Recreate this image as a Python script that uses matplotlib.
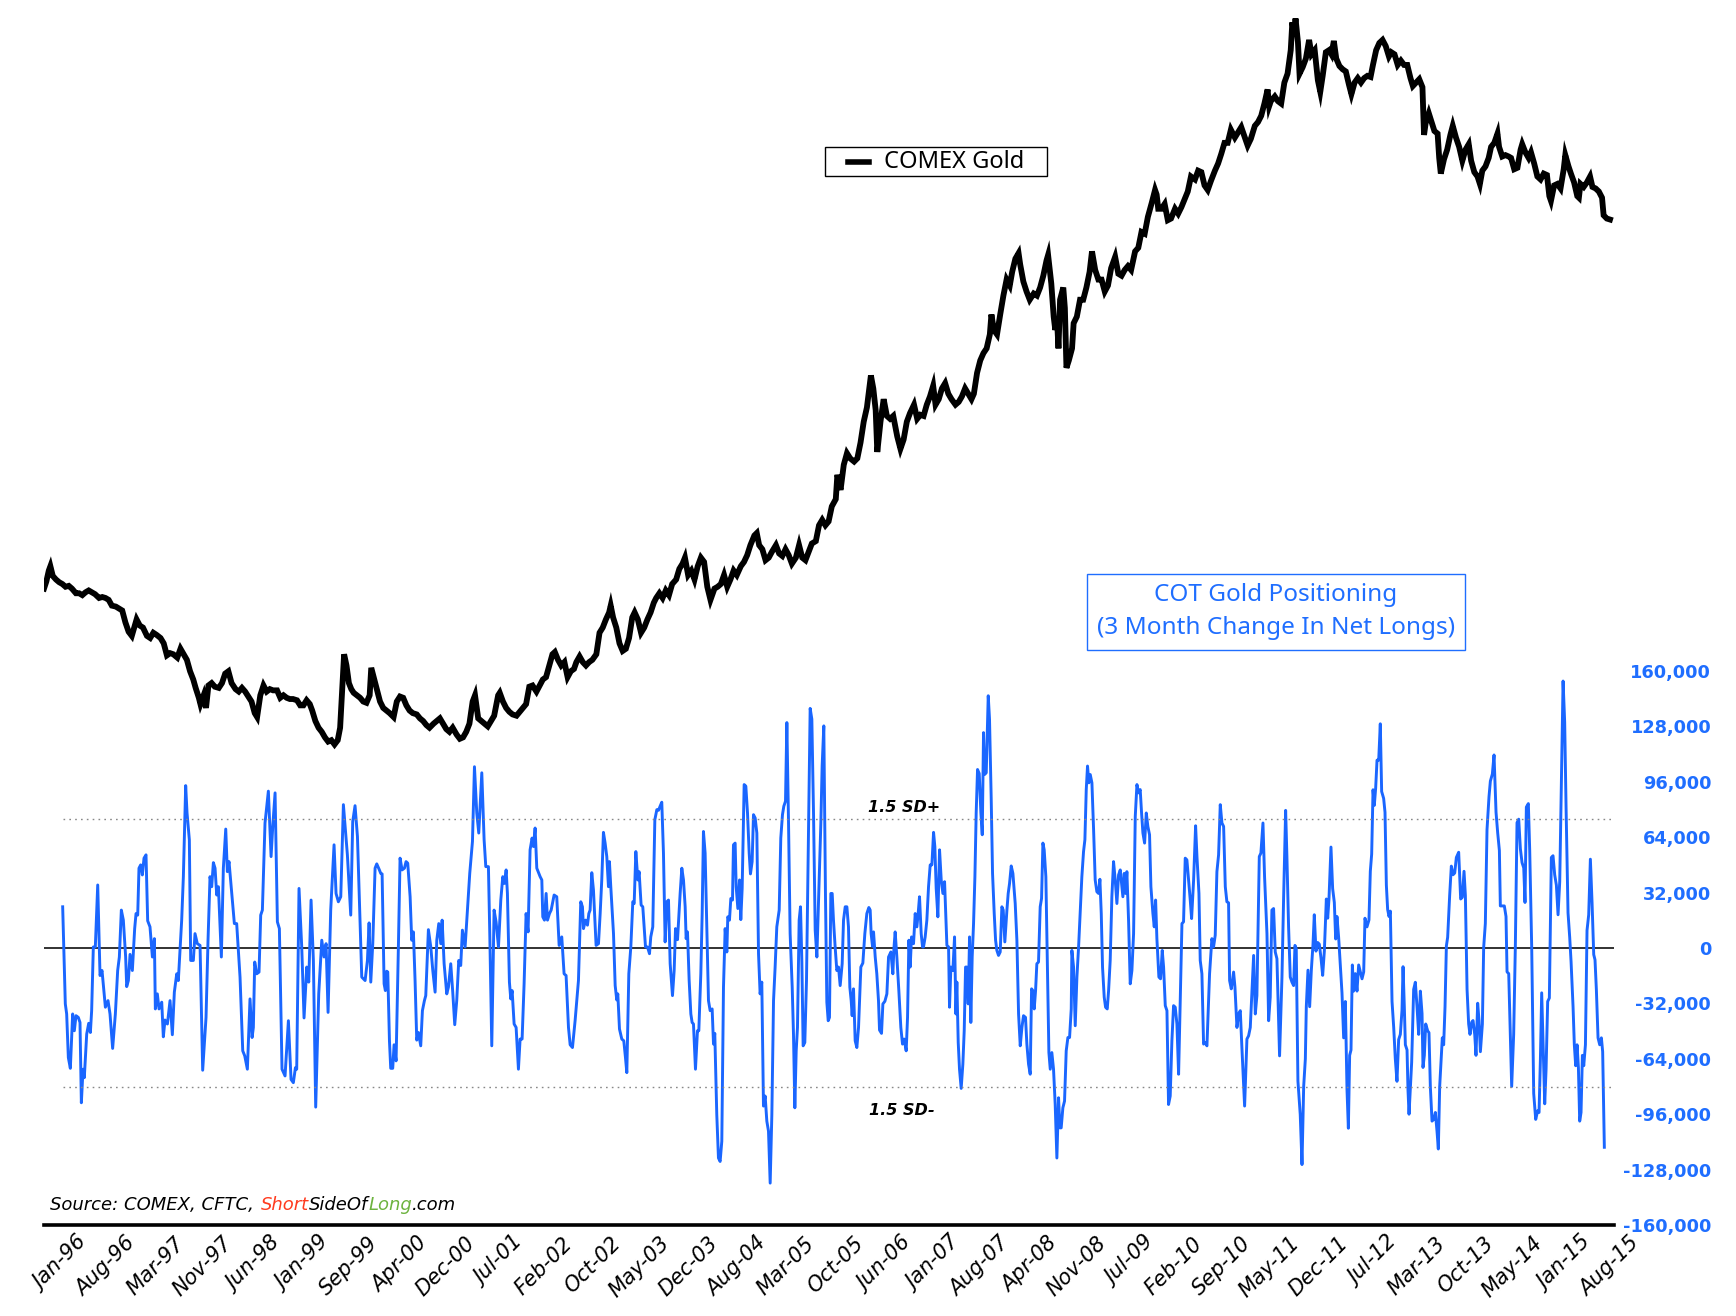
import numpy as np
import matplotlib.pyplot as plt
from matplotlib.offsetbox import TextArea, HPacker, AnnotationBbox
from matplotlib.lines import Line2D
from matplotlib.patches import Rectangle

plt.rcParams['font.family'] = ['Noto Sans', 'DejaVu Sans']

# COMEX gold, weekly-ish closes (USD/oz), decimal years
gold_year = [
    1996.00, 1996.03, 1996.06, 1996.08, 1996.11, 1996.15, 1996.19, 1996.23, 1996.27, 1996.31,
    1996.35, 1996.40, 1996.44, 1996.48, 1996.52, 1996.56, 1996.60, 1996.64, 1996.69, 1996.73,
    1996.77, 1996.81, 1996.85, 1996.90, 1996.94, 1996.98, 1997.02, 1997.06, 1997.10, 1997.13,
    1997.16, 1997.20, 1997.24, 1997.29, 1997.33, 1997.37, 1997.41, 1997.46, 1997.50, 1997.54,
    1997.58, 1997.62, 1997.67, 1997.71, 1997.75, 1997.79, 1997.83, 1997.87, 1997.90, 1997.94,
    1997.96, 1998.00, 1998.03, 1998.06, 1998.10, 1998.14, 1998.19, 1998.23, 1998.27, 1998.31,
    1998.35, 1998.40, 1998.44, 1998.48, 1998.52, 1998.56, 1998.60, 1998.64, 1998.67, 1998.71,
    1998.75, 1998.79, 1998.83, 1998.87, 1998.92, 1998.96, 1999.00, 1999.04, 1999.08, 1999.12,
    1999.17, 1999.21, 1999.25, 1999.29, 1999.33, 1999.36, 1999.40, 1999.44, 1999.48, 1999.52,
    1999.56, 1999.60, 1999.64, 1999.68, 1999.71, 1999.74, 1999.76, 1999.79, 1999.82, 1999.85,
    1999.88, 1999.92, 1999.96, 2000.00, 2000.04, 2000.08, 2000.10, 2000.13, 2000.17, 2000.21,
    2000.25, 2000.29, 2000.33, 2000.38, 2000.42, 2000.46, 2000.50, 2000.54, 2000.58, 2000.62,
    2000.67, 2000.71, 2000.75, 2000.79, 2000.83, 2000.88, 2000.92, 2000.96, 2001.00, 2001.04,
    2001.08, 2001.12, 2001.17, 2001.21, 2001.25, 2001.29, 2001.33, 2001.37, 2001.40, 2001.44,
    2001.48, 2001.52, 2001.56, 2001.60, 2001.64, 2001.69, 2001.71, 2001.75, 2001.79, 2001.83,
    2001.87, 2001.92, 2001.96, 2002.00, 2002.04, 2002.08, 2002.12, 2002.17, 2002.21, 2002.25,
    2002.29, 2002.33, 2002.37, 2002.40, 2002.44, 2002.48, 2002.52, 2002.56, 2002.60, 2002.64,
    2002.67, 2002.71, 2002.75, 2002.79, 2002.83, 2002.87, 2002.92, 2002.96, 2003.00, 2003.04,
    2003.08, 2003.10, 2003.13, 2003.17, 2003.21, 2003.25, 2003.29, 2003.33, 2003.37, 2003.40,
    2003.44, 2003.48, 2003.52, 2003.56, 2003.60, 2003.64, 2003.67, 2003.71, 2003.75, 2003.79,
    2003.83, 2003.87, 2003.92, 2003.96, 2004.00, 2004.03, 2004.07, 2004.11, 2004.15, 2004.19,
    2004.23, 2004.27, 2004.31, 2004.35, 2004.40, 2004.44, 2004.48, 2004.52, 2004.56, 2004.60,
    2004.64, 2004.68, 2004.73, 2004.77, 2004.81, 2004.85, 2004.90, 2004.93, 2004.96, 2005.00,
    2005.04, 2005.08, 2005.12, 2005.17, 2005.21, 2005.25, 2005.29, 2005.33, 2005.37, 2005.42,
    2005.46, 2005.50, 2005.54, 2005.58, 2005.62, 2005.67, 2005.71, 2005.75, 2005.79, 2005.83,
    2005.87, 2005.92, 2005.94, 2005.98, 2006.02, 2006.06, 2006.10, 2006.15, 2006.19, 2006.23,
    2006.27, 2006.31, 2006.36, 2006.39, 2006.42, 2006.44, 2006.48, 2006.52, 2006.56, 2006.60,
    2006.64, 2006.69, 2006.73, 2006.77, 2006.81, 2006.85, 2006.90, 2006.94, 2006.98, 2007.02,
    2007.06, 2007.10, 2007.14, 2007.17, 2007.21, 2007.25, 2007.29, 2007.33, 2007.37, 2007.42,
    2007.46, 2007.50, 2007.54, 2007.58, 2007.62, 2007.65, 2007.69, 2007.73, 2007.77, 2007.81,
    2007.85, 2007.87, 2007.90, 2007.94, 2007.98, 2008.02, 2008.06, 2008.10, 2008.13, 2008.17,
    2008.21, 2008.23, 2008.27, 2008.31, 2008.35, 2008.40, 2008.44, 2008.48, 2008.52, 2008.56,
    2008.58, 2008.62, 2008.65, 2008.67, 2008.69, 2008.71, 2008.73, 2008.77, 2008.79, 2008.81,
    2008.84, 2008.88, 2008.90, 2008.94, 2008.98, 2009.02, 2009.06, 2009.10, 2009.13, 2009.17,
    2009.21, 2009.25, 2009.29, 2009.33, 2009.37, 2009.42, 2009.46, 2009.50, 2009.54, 2009.58,
    2009.62, 2009.67, 2009.71, 2009.75, 2009.79, 2009.83, 2009.88, 2009.92, 2009.94, 2009.96,
    2010.00, 2010.04, 2010.08, 2010.12, 2010.17, 2010.21, 2010.25, 2010.29, 2010.33, 2010.37,
    2010.42, 2010.46, 2010.50, 2010.54, 2010.58, 2010.62, 2010.67, 2010.71, 2010.75, 2010.79,
    2010.83, 2010.87, 2010.92, 2010.96, 2011.00, 2011.04, 2011.08, 2011.12, 2011.17, 2011.21,
    2011.25, 2011.29, 2011.33, 2011.35, 2011.37, 2011.42, 2011.46, 2011.50, 2011.54, 2011.58,
    2011.62, 2011.64, 2011.66, 2011.68, 2011.71, 2011.73, 2011.77, 2011.81, 2011.85, 2011.88,
    2011.92, 2011.96, 2011.99, 2012.02, 2012.06, 2012.10, 2012.13, 2012.16, 2012.19, 2012.23,
    2012.27, 2012.31, 2012.35, 2012.38, 2012.42, 2012.46, 2012.50, 2012.54, 2012.58, 2012.62,
    2012.65, 2012.69, 2012.73, 2012.77, 2012.81, 2012.85, 2012.88, 2012.92, 2012.96, 2013.00,
    2013.04, 2013.08, 2013.12, 2013.15, 2013.19, 2013.23, 2013.27, 2013.29, 2013.31, 2013.35,
    2013.38, 2013.42, 2013.46, 2013.48, 2013.50, 2013.54, 2013.58, 2013.62, 2013.65, 2013.69,
    2013.73, 2013.77, 2013.81, 2013.85, 2013.88, 2013.92, 2013.96, 2013.99, 2014.02, 2014.06,
    2014.10, 2014.13, 2014.17, 2014.21, 2014.23, 2014.27, 2014.31, 2014.35, 2014.38, 2014.42,
    2014.46, 2014.50, 2014.52, 2014.56, 2014.60, 2014.63, 2014.67, 2014.71, 2014.75, 2014.79,
    2014.83, 2014.86, 2014.88, 2014.92, 2014.96, 2015.00, 2015.04, 2015.06, 2015.10, 2015.13,
    2015.17, 2015.21, 2015.23, 2015.25, 2015.29, 2015.33, 2015.37, 2015.40, 2015.44, 2015.48,
    2015.52, 2015.54, 2015.58, 2015.62,
]
gold_price = [
    390, 398, 410, 415, 404, 400, 397, 395, 392, 393,
    390, 385, 385, 383, 386, 388, 386, 384, 380, 381,
    380, 378, 372, 371, 369, 367, 355, 346, 342, 350,
    358, 352, 350, 342, 340, 345, 343, 340, 335, 324,
    326, 325, 322, 330, 325, 320, 310, 303, 296, 288,
    283, 290, 280, 298, 300, 297, 296, 300, 308, 310,
    300, 295, 293, 296, 293, 289, 285, 276, 273, 290,
    298, 293, 295, 294, 294, 288, 290, 288, 287, 287,
    286, 282, 282, 286, 283, 278, 270, 265, 262, 258,
    255, 256, 253, 256, 265, 300, 325, 315, 300, 295,
    292, 290, 288, 285, 284, 290, 313, 305, 295, 285,
    280, 278, 276, 273, 285, 289, 288, 282, 278, 276,
    275, 272, 270, 267, 265, 268, 270, 272, 268, 264,
    262, 265, 260, 257, 258, 262, 268, 285, 290, 272,
    270, 268, 266, 270, 274, 290, 292, 285, 280, 277,
    275, 274, 277, 280, 283, 297, 298, 293, 298, 303,
    305, 315, 325, 327, 320, 315, 318, 305, 310, 312,
    318, 323, 318, 315, 318, 320, 325, 345, 350, 358,
    365, 372, 360, 350, 335, 328, 330, 340, 360, 365,
    358, 345, 350, 358, 365, 375, 380, 385, 380, 388,
    383, 395, 400, 412, 418, 425, 405, 410, 400, 415,
    425, 420, 392, 378, 390, 392, 395, 405, 392, 400,
    410, 405, 415, 420, 428, 440, 452, 455, 440, 435,
    422, 425, 432, 440, 430, 427, 435, 428, 418, 425,
    440, 425, 422, 432, 442, 445, 465, 472, 465, 470,
    490, 500, 535, 513, 550, 568, 560, 555, 560, 585,
    620, 645, 705, 680, 640, 570, 620, 660, 630, 625,
    630, 595, 575, 590, 620, 635, 650, 625, 632, 630,
    650, 665, 685, 650, 660, 680, 690, 670, 660, 650,
    655, 665, 680, 670, 660, 670, 710, 735, 750, 760,
    790, 835, 800, 790, 835, 880, 920, 905, 940, 975,
    990, 960, 915, 890, 870, 885, 880, 900, 930, 970,
    985, 910, 830, 800, 830, 760, 870, 900, 850, 720,
    735, 760, 815, 830, 870, 870, 900, 940, 995, 945,
    920, 920, 890, 905, 950, 980, 935, 930, 945, 955,
    945, 995, 1005, 1050, 1045, 1095, 1140, 1180, 1165, 1120,
    1120, 1135, 1085, 1090, 1120, 1105, 1125, 1150, 1175, 1225,
    1215, 1245, 1240, 1195, 1180, 1210, 1245, 1270, 1305, 1345,
    1345, 1395, 1365, 1385, 1405, 1370, 1335, 1360, 1410, 1425,
    1450, 1500, 1560, 1490, 1510, 1530, 1510, 1500, 1590, 1630,
    1740, 1880, 1820, 1900, 1780, 1630, 1660, 1700, 1790, 1720,
    1740, 1600, 1550, 1620, 1730, 1740, 1720, 1785, 1700, 1665,
    1650, 1640, 1580, 1540, 1590, 1610, 1590, 1610, 1620, 1615,
    1670, 1740, 1775, 1790, 1760, 1710, 1730, 1720, 1670, 1690,
    1670, 1670, 1610, 1575, 1590, 1605, 1570, 1375, 1420, 1460,
    1430, 1390, 1380, 1290, 1235, 1285, 1320, 1375, 1410, 1365,
    1330, 1280, 1320, 1340, 1280, 1240, 1225, 1200, 1245, 1260,
    1290, 1330, 1345, 1380, 1330, 1295, 1300, 1295, 1290, 1250,
    1255, 1320, 1340, 1310, 1290, 1310, 1270, 1225, 1215, 1235,
    1230, 1160, 1145, 1195, 1200, 1185, 1250, 1300, 1260, 1235,
    1205, 1160, 1155, 1200, 1190, 1205, 1225, 1190, 1185, 1175,
    1155, 1100, 1090, 1087,
]

# COT gold, 3 month change in net longs (thousands of contracts)
cot_year = [
    1996.234, 1996.267, 1996.284, 1996.305, 1996.330, 1996.359, 1996.380, 1996.401, 1996.430, 1996.451,
    1996.468, 1996.489, 1996.505, 1996.535, 1996.560, 1996.581, 1996.597, 1996.618, 1996.643, 1996.673,
    1996.702, 1996.727, 1996.769, 1996.802, 1996.827, 1996.860, 1996.894, 1996.923, 1996.944, 1996.969,
    1996.994, 1997.023, 1997.036, 1997.057, 1997.078, 1997.107, 1997.136, 1997.153, 1997.174, 1997.190,
    1997.211, 1997.232, 1997.253, 1997.278, 1997.299, 1997.328, 1997.358, 1997.383, 1997.395, 1997.420,
    1997.441, 1997.475, 1997.495, 1997.516, 1997.546, 1997.579, 1997.608, 1997.633, 1997.663, 1997.683,
    1997.725, 1997.746, 1997.775, 1997.792, 1997.821, 1997.838, 1997.871, 1997.892, 1997.921, 1997.955,
    1997.988, 1998.030, 1998.055, 1998.080, 1998.101, 1998.122, 1998.143, 1998.164, 1998.185, 1998.222,
    1998.247, 1998.277, 1998.297, 1998.318, 1998.352, 1998.385, 1998.414, 1998.456, 1998.490, 1998.515,
    1998.548, 1998.581, 1998.607, 1998.623, 1998.640, 1998.665, 1998.694, 1998.715, 1998.736, 1998.769,
    1998.811, 1998.845, 1998.866, 1998.895, 1998.924, 1998.949, 1998.982, 1999.020, 1999.062, 1999.095,
    1999.124, 1999.150, 1999.166, 1999.195, 1999.229, 1999.258, 1999.292, 1999.317, 1999.346, 1999.375,
    1999.404, 1999.442, 1999.480, 1999.509, 1999.534, 1999.559, 1999.592, 1999.634, 1999.659, 1999.688,
    1999.718, 1999.751, 1999.776, 1999.801, 1999.843, 1999.868, 1999.897, 1999.927,
    1999.981, 2000.002, 2000.023, 2000.052, 2000.073, 2000.094, 2000.119, 2000.148, 2000.169, 2000.202,
    2000.219, 2000.236, 2000.261, 2000.277, 2000.294, 2000.307, 2000.328, 2000.344, 2000.369, 2000.386,
    2000.411, 2000.440, 2000.461, 2000.486, 2000.516, 2000.536, 2000.557, 2000.587, 2000.607, 2000.628,
    2000.649, 2000.670, 2000.691, 2000.720, 2000.741, 2000.766, 2000.783, 2000.816, 2000.846, 2000.871,
    2000.900, 2000.921, 2000.946, 2000.971, 2000.988, 2001.013, 2001.046, 2001.067, 2001.096, 2001.121,
    2001.146, 2001.171, 2001.196, 2001.221, 2001.242, 2001.276, 2001.305, 2001.334, 2001.368, 2001.393,
    2001.422, 2001.447, 2001.485, 2001.514, 2001.535, 2001.568, 2001.585, 2001.610, 2001.639, 2001.664,
    2001.694, 2001.723, 2001.748, 2001.769, 2001.790, 2001.806, 2001.831, 2001.848, 2001.865, 2001.890,
    2001.915, 2001.944, 2001.965, 2001.990, 2002.015, 2002.040, 2002.065, 2002.090, 2002.115, 2002.132,
    2002.153, 2002.174, 2002.199, 2002.216, 2002.237, 2002.249, 2002.270, 2002.291, 2002.308, 2002.333,
    2002.354, 2002.374, 2002.391, 2002.424, 2002.454, 2002.487, 2002.516, 2002.541, 2002.571, 2002.592,
    2002.621, 2002.654, 2002.696, 2002.725, 2002.746, 2002.759, 2002.784, 2002.809, 2002.826, 2002.842,
    2002.863, 2002.884, 2002.917, 2002.947, 2002.968, 2002.988, 2003.009, 2003.030, 2003.051, 2003.072,
    2003.084, 2003.101, 2003.135, 2003.156, 2003.176, 2003.189, 2003.210, 2003.239, 2003.264, 2003.285,
    2003.302, 2003.327, 2003.352, 2003.377, 2003.394, 2003.415, 2003.440, 2003.456, 2003.481, 2003.502,
    2003.536, 2003.561, 2003.586, 2003.602, 2003.627, 2003.653, 2003.678, 2003.699, 2003.719, 2003.740,
    2003.761, 2003.782, 2003.803, 2003.824, 2003.845, 2003.874, 2003.895, 2003.912, 2003.937,
    2003.970, 2003.991, 2004.012, 2004.033, 2004.045, 2004.062, 2004.083, 2004.104, 2004.120, 2004.137,
    2004.162, 2004.187, 2004.204, 2004.229, 2004.246, 2004.262, 2004.283, 2004.304, 2004.325, 2004.346,
    2004.371, 2004.388, 2004.404, 2004.429, 2004.450, 2004.471, 2004.492, 2004.513, 2004.534, 2004.555,
    2004.567, 2004.588, 2004.605, 2004.626, 2004.638, 2004.659, 2004.672, 2004.693, 2004.714, 2004.730,
    2004.747, 2004.772, 2004.793, 2004.814, 2004.835, 2004.851, 2004.872, 2004.889, 2004.910, 2004.931,
    2004.952, 2004.972, 2004.993, 2005.014, 2005.035, 2005.056, 2005.077, 2005.098, 2005.119, 2005.140,
    2005.160, 2005.181, 2005.211, 2005.231, 2005.252, 2005.269, 2005.290, 2005.307, 2005.328, 2005.348,
    2005.374, 2005.390, 2005.407, 2005.424, 2005.440, 2005.461, 2005.478, 2005.495, 2005.511, 2005.532,
    2005.553, 2005.574, 2005.599, 2005.620, 2005.641, 2005.662, 2005.683, 2005.708, 2005.733, 2005.749,
    2005.770, 2005.791, 2005.808, 2005.825, 2005.841, 2005.858, 2005.875, 2005.891, 2005.912, 2005.933,
    2005.954, 2005.975, 2006.000, 2006.017, 2006.038, 2006.059, 2006.079, 2006.096, 2006.113, 2006.125,
    2006.142, 2006.163, 2006.184, 2006.205, 2006.234, 2006.259, 2006.284, 2006.309, 2006.334, 2006.351,
    2006.363, 2006.380, 2006.393, 2006.414, 2006.434, 2006.455, 2006.468, 2006.493, 2006.510, 2006.535,
    2006.560, 2006.581, 2006.610, 2006.635, 2006.648, 2006.664, 2006.685, 2006.710, 2006.735, 2006.756,
    2006.777, 2006.802, 2006.819, 2006.836, 2006.852, 2006.869, 2006.894, 2006.915, 2006.936, 2006.952,
    2006.969, 2006.990, 2007.007, 2007.019, 2007.040, 2007.061, 2007.082, 2007.103, 2007.124, 2007.145,
    2007.161, 2007.178, 2007.199, 2007.220, 2007.241, 2007.262, 2007.283, 2007.312, 2007.333, 2007.345,
    2007.362, 2007.387, 2007.408, 2007.425, 2007.437, 2007.454, 2007.470, 2007.491, 2007.512, 2007.529,
    2007.546, 2007.562, 2007.579, 2007.596, 2007.612, 2007.629, 2007.646, 2007.663, 2007.679, 2007.696,
    2007.717, 2007.738, 2007.755, 2007.771, 2007.784, 2007.805, 2007.830, 2007.846, 2007.867, 2007.884,
    2007.905, 2007.922, 2007.938, 2007.959,
    2007.980, 2008.001, 2008.018, 2008.038, 2008.064, 2008.080, 2008.097, 2008.118, 2008.139, 2008.168,
    2008.189, 2008.210, 2008.231, 2008.252, 2008.272, 2008.297, 2008.314, 2008.335, 2008.356, 2008.373,
    2008.389, 2008.406, 2008.423, 2008.439, 2008.460, 2008.481, 2008.498, 2008.515, 2008.531, 2008.552,
    2008.573, 2008.590, 2008.607, 2008.627, 2008.648, 2008.669, 2008.690, 2008.711, 2008.728, 2008.744,
    2008.765, 2008.786, 2008.807, 2008.828, 2008.849, 2008.870, 2008.878, 2008.899, 2008.920, 2008.941,
    2008.962, 2008.983, 2009.003, 2009.024, 2009.041, 2009.058, 2009.074, 2009.091, 2009.108, 2009.129,
    2009.150, 2009.170, 2009.191, 2009.212, 2009.229, 2009.246, 2009.262, 2009.283, 2009.300, 2009.321,
    2009.338, 2009.358, 2009.379, 2009.400, 2009.421, 2009.442, 2009.463, 2009.484, 2009.496, 2009.517,
    2009.534, 2009.551, 2009.567, 2009.588, 2009.609, 2009.630, 2009.651, 2009.672, 2009.693, 2009.713,
    2009.734, 2009.751, 2009.768, 2009.789, 2009.810, 2009.830, 2009.851, 2009.868, 2009.893, 2009.910,
    2009.927, 2009.943, 2009.968, 2009.989, 2010.010, 2010.027, 2010.048, 2010.069, 2010.089, 2010.110,
    2010.131, 2010.152, 2010.173, 2010.194, 2010.215, 2010.236, 2010.257, 2010.277, 2010.298, 2010.319,
    2010.340, 2010.361, 2010.378, 2010.403, 2010.428, 2010.445, 2010.470, 2010.486, 2010.507, 2010.528,
    2010.549, 2010.570, 2010.603, 2010.632, 2010.653, 2010.674, 2010.695, 2010.716, 2010.737, 2010.758,
    2010.779, 2010.800, 2010.820, 2010.841, 2010.854, 2010.875, 2010.904, 2010.921, 2010.946, 2010.967,
    2010.988, 2011.008, 2011.042, 2011.071, 2011.092, 2011.113, 2011.134, 2011.155, 2011.176, 2011.196,
    2011.226, 2011.246, 2011.272, 2011.292, 2011.322, 2011.343, 2011.363, 2011.384, 2011.405, 2011.426,
    2011.447, 2011.480, 2011.510, 2011.531, 2011.556, 2011.572, 2011.593, 2011.614, 2011.635, 2011.656,
    2011.673, 2011.689, 2011.710, 2011.739,
    2011.761, 2011.782, 2011.803, 2011.815, 2011.836, 2011.857, 2011.878, 2011.899, 2011.915, 2011.936,
    2011.957, 2011.978, 2011.999, 2012.020, 2012.041, 2012.066, 2012.083, 2012.099, 2012.124, 2012.145,
    2012.166, 2012.183, 2012.199, 2012.220, 2012.241, 2012.262, 2012.283, 2012.304, 2012.325, 2012.342,
    2012.358, 2012.375, 2012.392, 2012.408, 2012.429, 2012.450, 2012.471, 2012.492, 2012.513, 2012.534,
    2012.550, 2012.575, 2012.600, 2012.617, 2012.634, 2012.651, 2012.667, 2012.684, 2012.701, 2012.722,
    2012.742, 2012.759, 2012.784, 2012.801, 2012.818, 2012.834, 2012.851, 2012.868, 2012.889, 2012.910,
    2012.930, 2012.951, 2012.972, 2012.993, 2013.014, 2013.027, 2013.043, 2013.056, 2013.077, 2013.089,
    2013.102, 2013.118, 2013.135, 2013.160, 2013.181, 2013.202, 2013.223, 2013.244, 2013.265, 2013.277,
    2013.294, 2013.311, 2013.336, 2013.352, 2013.369, 2013.390, 2013.411, 2013.432, 2013.453, 2013.469,
    2013.486, 2013.503, 2013.519, 2013.536, 2013.553, 2013.570, 2013.586, 2013.611, 2013.632, 2013.653,
    2013.674, 2013.695, 2013.724, 2013.749, 2013.770, 2013.791, 2013.808, 2013.829, 2013.849, 2013.866,
    2013.887, 2013.904, 2013.925, 2013.941, 2013.962, 2013.979, 2013.996, 2014.021, 2014.037, 2014.058,
    2014.079, 2014.104, 2014.121, 2014.146, 2014.167, 2014.192, 2014.213, 2014.234, 2014.246, 2014.271,
    2014.296, 2014.317, 2014.330, 2014.351, 2014.372, 2014.388, 2014.413, 2014.434, 2014.455, 2014.476,
    2014.497, 2014.518, 2014.539, 2014.555, 2014.572, 2014.597, 2014.614, 2014.639, 2014.664, 2014.689,
    2014.714, 2014.731, 2014.748, 2014.764, 2014.781, 2014.802, 2014.819, 2014.839, 2014.860, 2014.885,
    2014.906, 2014.927, 2014.948, 2014.969, 2014.990, 2015.011, 2015.032, 2015.052, 2015.069, 2015.094,
    2015.115, 2015.132, 2015.157, 2015.173, 2015.190, 2015.207, 2015.224, 2015.240, 2015.257, 2015.274,
    2015.291, 2015.312, 2015.332, 2015.353, 2015.374, 2015.395, 2015.416, 2015.432, 2015.449, 2015.470,
    2015.491, 2015.512, 2015.528, 2015.549,
]
cot_change = [
    23.8, -32.3, -38.1, -63.3, -69.5, -38.1, -47.8, -39.1, -40.1, -43.0,
    -89.4, -70.0, -74.9, -49.7, -43.5, -48.8, -36.2, 0.6, 0.6, 36.4,
    -15.9, -13.0, -34.2, -30.4, -38.1, -58.0, -38.1, -13.0, -5.2, 21.9,
    16.1, -5.2, -22.3, -18.8, -3.7, -13.0, 11.2, 19.9, 19.0, 46.1,
    48.0, 42.2, 51.9, 53.8, 15.7, 12.2, -5.2, 5.4, -35.2, -26.5,
    -35.2, -31.3, -51.3, -41.6, -43.9, -30.4, -50.1, -25.5, -14.9, -18.8,
    16.1, 41.2, 93.8, 78.0, 62.5, -7.2, -7.2, 8.3, 2.5, 1.5,
    -70.6, -40.1, 4.5, 41.2, 35.4, 49.3, 46.1, 30.6, 35.4, -5.2,
    46.1, 68.7, 44.1, 49.9, 31.5, 14.1, 14.1, -16.8, -59.4, -62.3,
    -70.0, -29.4, -51.7, -45.9, -8.1, -14.9, -13.9, 19.0, 21.9, 72.2,
    90.6, 52.8, 70.2, 89.6, 15.1, 11.2, -70.0, -73.9, -42.0, -75.9,
    -77.8, -69.1, -70.0, 34.4, 0.6, -40.4, -11.0, -19.7, 27.7, -7.2,
    -91.9, -26.5, 4.5, -5.2, 2.5, -37.2, 21.9, 59.6, 31.5, 26.7,
    29.6, 82.8, 68.3, 53.8, 19.0, 73.1, 82.2, 64.4,
    -16.8, -17.8, -18.8, -7.2, 14.5, -19.7, 2.5, 46.1, 48.6, 45.1,
    43.1, 42.8, -20.7, -24.6, -13.4, -13.9, -53.6, -69.5, -69.5, -55.9,
    -65.2, 0.6, 51.9, 45.1, 46.1, 49.9, 49.0, 29.6, 4.5, 9.3,
    -18.8, -53.2, -48.8, -56.5, -36.2, -30.4, -27.5, 10.6, 0.6, -13.0,
    -25.5, 4.5, 14.1, 2.5, 16.1, -9.1, -26.5, -22.6, -9.1, -25.5,
    -44.3, -30.4, -7.2, -10.1, 10.3, 0.6, 21.9, 43.1, 61.5, 104.7,
    78.0, 66.4, 101.2, 62.5, 47.0, 47.0, 8.3, -56.5, 21.9, 15.1,
    0.6, 27.7, 41.2, 37.3, 45.1, 31.5, -19.7, -29.4, -24.6, -43.9,
    -45.9, -70.0, -52.6, -52.6, -20.7, 19.9, 9.3, 56.7, 63.5, 58.6,
    69.3, 46.1, 43.1, 41.2, 39.3, 18.0, 16.1, 31.5, 16.1, 19.9,
    21.9, 26.7, 30.6, 29.6, 1.5, 6.4, -14.9, -15.9, -45.9, -55.9,
    -57.5, -42.0, -18.8, 26.7, 23.8, 11.2, 16.1, 13.2, 19.9, 21.9,
    43.5, 33.5, 1.5, 2.5, 19.9, 39.3, 66.8, 60.6, 52.8, 35.4,
    49.9, 35.4, 8.3, -21.7, -30.0, -26.5, -46.8, -52.6, -53.6, -63.3,
    -72.0, -14.9, 0.6, 26.7, 25.7, 55.7, 39.3, 44.1, 24.8, 23.8,
    0.6, 0.6, -3.3, 6.4, 12.2, 74.1, 79.9, 79.5, 81.9, 84.2,
    54.8, 3.5, 26.7, 27.7, -9.1, -27.5, -13.0, 11.2, 4.8,
    31.5, 46.1, 39.3, 23.8, 5.4, 9.3, -18.8, -38.1, -43.0, -43.9,
    -70.0, -47.8, -47.8, -14.9, 19.9, 67.3, 54.8, 12.2, -30.4, -36.2,
    -35.2, -55.5, -49.3, -96.2, -121.3, -123.3, -111.6, -22.6, 11.2, -2.3,
    18.0, 16.1, 28.6, 27.7, 59.6, 60.6, 35.4, 22.8, 39.3, 16.4,
    34.4, 94.4, 93.5, 78.0, 54.8, 42.8, 49.9, 77.0, 75.1, 66.4,
    -3.3, -26.5, -19.7, -91.3, -85.5, -100.0, -105.8, -135.8, -96.2, -30.4,
    -11.0, 12.2, 21.9, 63.5, 77.0, 81.9, 84.8, 130.2, 72.2, 8.3,
    -22.6, -49.7, -92.3, -59.4, -45.9, 16.1, 23.8, -8.1, -56.5, -54.6,
    -18.8, 50.9, 138.4, 132.2, 78.0, 10.3, -5.2, 33.5, 72.2, 105.1,
    128.3, 29.6, -31.3, -42.0, -40.1, 31.5, 31.5, 16.1, 0.6, -13.0,
    -11.0, -21.7, -9.1, 16.1, 23.8, 23.8, 12.2, -22.6, -30.4, -39.1,
    -23.6, -53.6, -57.5, -45.9, -11.0, -8.7, 8.3, 19.9, 23.4, 21.9,
    8.3, 1.0, 9.3, -5.2, -14.9, -30.4, -47.4, -49.3, -32.3, -30.8,
    -26.5, -5.2, -2.3, -14.9, -0.4, 9.3, -5.2, -24.6, -45.9, -55.5,
    -52.6, -59.4, -40.1, 4.5, -11.0, 6.4, 2.5, 19.9, 12.2, 19.9,
    29.6, 8.3, 0.6, 0.6, 6.4, 16.1, 35.4, 48.0, 48.0, 66.8,
    58.6, 34.4, 18.0, 56.7, 39.3, 31.5, 38.3, 1.5, 0.6, -34.2,
    -11.0, -13.0, 6.4, -38.1, -19.7, -54.6, -70.0, -81.1, -67.1, -47.8,
    -11.0, -11.0, -32.3, 6.4, -43.0, -5.2, 14.1, 41.2, 78.0, 103.1,
    100.8, 78.0, 65.4, 124.4, 100.2, 101.2, 145.7, 132.2, 86.7, 43.1,
    19.9, 4.5, -1.4, -4.3,
    -2.3, 23.8, 21.9, 3.5, 21.9, 31.5, 37.3, 47.4, 43.1, 25.7,
    4.5, -38.1, -56.5, -45.9, -39.1, -40.1, -55.5, -67.1, -72.9, -23.6,
    -24.6, -35.2, -24.6, -9.1, -8.1, 23.8, 28.6, 60.6, 56.7, 41.2,
    -16.8, -60.4, -70.0, -60.4, -70.0, -90.4, -121.3, -86.5, -103.9, -103.9,
    -92.3, -88.4, -59.4, -51.7, -51.7, -35.2, -1.4, -11.0, -44.9, -16.8,
    0.6, 20.9, 41.2, 55.7, 62.5, 91.5, 105.1, 95.4, 100.2, 95.4,
    68.3, 39.3, 32.5, 31.5, 39.7, 19.9, -11.0, -28.4, -34.2, -35.2,
    -24.6, -7.2, 29.6, 49.9, 39.3, 25.7, 42.2, 45.1, 39.3, 29.6,
    43.1, 31.5, 44.1, 16.1, -20.7, -13.0, 8.3, 76.0, 94.4, 89.6,
    91.5, 78.0, 66.4, 60.6, 78.0, 70.2, 65.4, 35.4, 19.9, 12.2,
    27.7, 5.4, -16.8, -17.8, -1.4, -11.0, -33.3, -36.2, -90.4, -85.5,
    -53.6, -33.3, -34.2, -43.9, -72.9, -28.4, 14.1, 15.1, 51.9, 50.9,
    39.3, 27.7, 17.0, 39.3, 70.6, 52.8, 31.5, -7.2, -14.9, -55.5,
    -54.6, -56.5, -14.9, 5.4, 0.6, 7.4, 44.1, 53.8, 82.8, 72.2,
    70.2, 35.4, 26.7, 26.1, -18.8, -23.6, -13.9, -22.6, -45.9, -38.1,
    -36.2, -57.5, -91.3, -52.6, -50.7, -45.9, -24.6, -4.3, -38.1, -27.5,
    52.8, 54.8, 72.2, 41.2, 8.3, -42.0, -28.4, 21.9, 22.8, -2.3,
    -6.2, -62.3, -16.8, 29.6, 79.5, 52.8, 12.2, -16.8, -19.7, -21.7,
    1.5, -0.4, -76.8, -96.2,
    -125.1, -80.0, -64.0, -33.9, -12.8, -33.9, -12.8, 2.2, 19.2, -1.8,
    3.2, 2.2, -5.8, -15.8, -1.8, 28.3, 17.2, 28.3, 58.3, 34.3,
    26.3, 5.2, 18.2, 6.2, -9.8, -25.9, -51.9, -30.9, -82.0, -104.1,
    -62.0, -58.9, -9.8, -24.9, -14.8, -24.9, -9.8, -13.8, -17.8, -13.8,
    17.2, 12.2, 16.2, 44.3, 54.3, 91.4, 82.4, 92.4, 108.5, 108.5,
    129.5, 90.4, 86.4, 78.4, 36.3, 22.3, 18.2, 21.3, -30.9, -45.9,
    -64.0, -77.0, -52.9, -49.9, -35.9, -10.8, -33.9, -55.9, -58.9, -82.0,
    -96.0, -82.0, -66.0, -23.9, -19.8, -33.9, -49.9, -24.9, -37.9, -69.0,
    -62.0, -43.9, -47.9, -48.9, -80.0, -100.0, -99.0, -95.0, -106.1, -116.1,
    -80.0, -66.0, -51.9, -55.9, -33.9, 1.2, 6.2, 30.3, 47.3, 42.3,
    43.3, 52.3, 55.3, 28.3, 29.3, 44.3, 30.3, -23.9, -43.9, -49.9,
    -42.9, -41.9, -49.9, -62.0, -31.9, -41.9, -59.9, -43.9, 0.2, 14.2,
    68.4, 87.4, 96.4, 100.5, 111.5, 78.4, 66.4, 56.3, 24.3, 24.3,
    24.3, 18.2, -13.8, -14.8, -51.9, -80.0, -49.9, 1.2, 72.4, 74.4,
    57.3, 49.3, 46.3, 26.3, 81.4, 83.4, 56.3, 0.2, -84.0, -99.0,
    -94.0, -95.0, -64.0, -25.9, -53.9, -90.0, -70.0, -30.9, -28.9, 52.3,
    53.3, 42.3, 36.3, 19.2, 38.3, 94.4, 154.2, 130.5, 82.4, 20.3,
    6.2, -7.8, -33.9, -55.9, -68.0, -55.9, -69.0, -100.0, -95.0, -62.0,
    -68.0, -55.9, 10.2, 19.2, 51.3, 26.3, -3.8, -6.8, -23.9, -51.9,
    -55.9, -51.9, -59.9, -115.1,
]

sd_upper = 74.5    # mean + 1.5 SD, thousands
sd_lower = -80.5   # mean - 1.5 SD, thousands

x_labels = ['Jan-96', 'Aug-96', 'Mar-97', 'Nov-97', 'Jun-98', 'Jan-99', 'Sep-99', 'Apr-00',
            'Dec-00', 'Jul-01', 'Feb-02', 'Oct-02', 'May-03', 'Dec-03', 'Aug-04', 'Mar-05',
            'Oct-05', 'Jun-06', 'Jan-07', 'Aug-07', 'Apr-08', 'Nov-08', 'Jul-09', 'Feb-10',
            'Sep-10', 'May-11', 'Dec-11', 'Jul-12', 'Mar-13', 'Oct-13', 'May-14', 'Jan-15',
            'Aug-15']
y_ticks = np.arange(-160000, 160001, 32000)

BLUE = '#1a66ff'
BLUE_TXT = '#1f6eff'
SANS = 'DejaVu Sans'
W, H = 1736, 1316
X0, X1 = 1996.0, 2015.67

fig = plt.figure(figsize=(W / 100, H / 100), dpi=100)
fig.patch.set_facecolor('white')

# gold on its own hidden log axis, sharing the time span
axg = fig.add_axes([44 / W, 91 / H, 1570 / W, 1225 / H])
axg.set_yscale('log')
axg.set_xlim(X0, X1)
axg.set_ylim(66.6, 2000)
axg.axis('off')
axg.plot(gold_year, gold_price, color='black', lw=4.2, solid_joinstyle='miter')

# COT positioning
ax = fig.add_axes([44 / W, 91 / H, 1570 / W, 554 / H])
ax.patch.set_alpha(0)
ax.set_xlim(X0, X1)
ax.set_ylim(-160000, 160000)
ax.plot(cot_year, np.array(cot_change) * 1000, color=BLUE, lw=2.1)
ax.axhline(0, color='#222222', lw=1.3, zorder=1)
ax.hlines([sd_upper * 1000, sd_lower * 1000], cot_year[0], X1, colors='#888888',
          linestyles=(0, (1.2, 3)), lw=1.0)

for s in ['top', 'left', 'right']:
    ax.spines[s].set_visible(False)
ax.spines['bottom'].set_linewidth(2.6)
ax.spines['bottom'].set_color('black')

ax.yaxis.tick_right()
ax.set_yticks(y_ticks)
ax.set_yticklabels([f'{v:,}' for v in y_ticks], fontfamily=SANS, fontweight='bold',
                   fontsize=12.8, color=BLUE_TXT)
ax.tick_params(axis='y', length=0, pad=70)
for t in ax.get_yticklabels():
    t.set_horizontalalignment('right')
ax.set_xticks([])

label_pos = np.linspace(1996.41, 2015.86, len(x_labels))
for p, lab in zip(label_pos, x_labels):
    ax.text(p, -0.015, lab, transform=ax.get_xaxis_transform(), rotation=45,
            ha='right', va='top', rotation_mode='anchor', fontsize=15,
            fontfamily=SANS, style='italic', clip_on=False)

ax.text(0.548, 0.754, '1.5 SD+', transform=ax.transAxes, ha='center', va='center',
        fontsize=11.5, fontfamily=SANS, style='italic', fontweight='bold')
ax.text(0.5465, 0.206, '1.5 SD-', transform=ax.transAxes, ha='center', va='center',
        fontsize=11.5, fontfamily=SANS, style='italic', fontweight='bold')

# legend box for gold
fig.add_artist(Rectangle((825 / W, 1 - 176 / H), 222 / W, 29 / H, transform=fig.transFigure,
                         fill=False, ec='black', lw=1.0))
fig.add_artist(Line2D([848 / W, 869 / W], [1 - 161.5 / H] * 2, transform=fig.transFigure,
                      color='black', lw=4.0))
fig.text(884 / W, 1 - 161.5 / H, 'COMEX Gold', ha='left', va='center', fontsize=17)

fig.text(0.735, 0.535, 'COT Gold Positioning\n(3 Month Change In Net Longs)', ha='center',
         va='center', color=BLUE_TXT, fontsize=17.5, linespacing=1.5,
         bbox=dict(boxstyle='square,pad=0.4', fc='white', ec=BLUE_TXT, lw=1.0))

# source line with coloured brand name
tp = dict(fontsize=13, style='italic', fontfamily=SANS)
first = TextArea('Source: COMEX, CFTC,', textprops=dict(color='black', **tp))
brand = HPacker(children=[TextArea('Short', textprops=dict(color='#ff3b1f', **tp)),
                          TextArea('SideOf', textprops=dict(color='black', **tp)),
                          TextArea('Long', textprops=dict(color='#6db33f', **tp)),
                          TextArea('.com', textprops=dict(color='black', **tp))],
                align='baseline', pad=0, sep=0)
src = HPacker(children=[first, brand], align='baseline', pad=0, sep=5)
fig.add_artist(AnnotationBbox(src, (50 / W, 1 - 1205 / H), xycoords='figure fraction',
                              box_alignment=(0, 0.5), frameon=False))

fig.savefig('out.png', dpi=100)
